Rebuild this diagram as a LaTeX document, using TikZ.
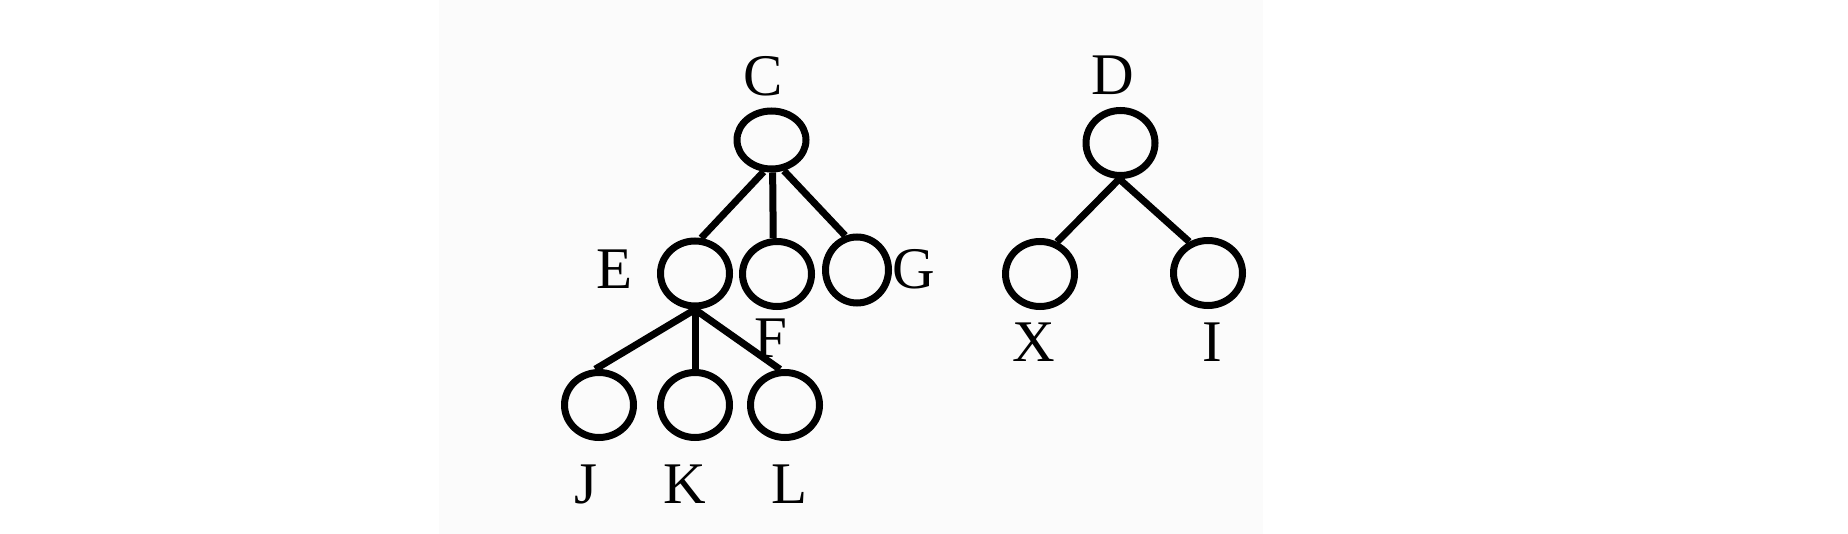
\documentclass[tikz,border=0pt]{standalone}
\usepackage{fontspec}
\setmainfont{Liberation Serif}
\usetikzlibrary{shapes.geometric}
\definecolor{panel}{HTML}{FBFBFB}
\begin{document}
\begin{tikzpicture}[x=1pt,y=-1pt,
  circ/.style={ellipse,draw=black,line width=7pt,inner sep=0pt,minimum width=69pt,minimum height=65pt},
  lbl/.style={anchor=base,inner sep=0pt,font=\fontsize{59}{59}\selectfont},
  conn/.style={line width=7pt}]
\useasboundingbox[fill=white] (0,0) rectangle (1848,534);
\fill[panel] (439,0) rectangle (1263,534);
% nodes
\node[circ,minimum height=58pt] (C) at (771.5,140) {};
\node[circ] (E) at (695,273.5) {};
\node[circ] (F) at (777,274) {};
\node[circ,minimum width=63pt,minimum height=66pt] (G) at (857,270) {};
\node[circ] (J) at (599,405) {};
\node[circ] (K) at (695,405) {};
\node[circ] (L) at (785,405) {};
\node[circ] (D) at (1120.5,143) {};
\node[circ] (X) at (1040,274) {};
\node[circ] (I) at (1208,273) {};
% labels
\node[lbl] (lC) at (763,96) {C};
\node[lbl] (lE) at (615,289) {E};
\node[lbl] (lF) at (771,358) {F};
\node[lbl] (lG) at (914,289) {G};
\node[lbl] (lJ) at (586,503) {J};
\node[lbl] (lK) at (685,503) {K};
\node[lbl] (lL) at (790,503) {L};
\node[lbl] (lD) at (1113,95) {D};
\node[lbl] (lX) at (1034,362) {X};
\node[lbl] (lI) at (1212,362) {I};
% connectors
\draw[conn] (C.-104) -- (E.80);
\draw[conn] (C.-88) -- (F.96);
\draw[conn] (C.-68) -- (G.109);
\draw[conn] (E.south) -- (J.96);
\draw[conn] (E.south) -- (K.north);
\draw[conn] (E.south) -- (L.98);
\draw[conn] (D.-92) -- (X.62);
\draw[conn] (D.-92) -- (I.121);
\end{tikzpicture}
\end{document}
